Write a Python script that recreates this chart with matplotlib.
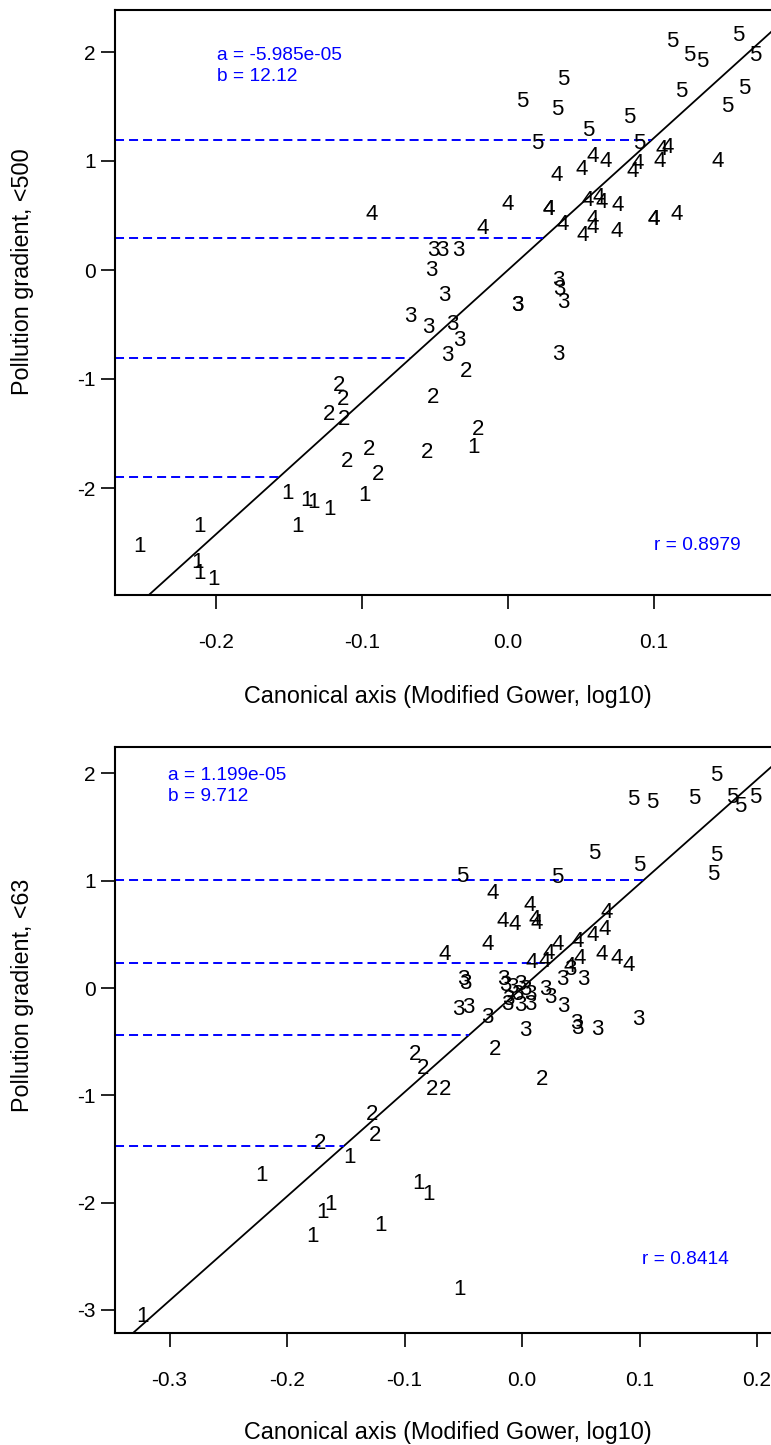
import matplotlib
matplotlib.use('Agg')
import matplotlib.pyplot as plt
import matplotlib.transforms as mtransforms
import numpy as np

plt.rcParams['font.family'] = ['Liberation Sans', 'DejaVu Sans']
plt.rcParams['lines.scale_dashes'] = False

# ---------------- Panel 1 (<500) ----------------
p1_c1_x = [-0.2527, -0.2116, -0.2130, -0.2116, -0.2014, -0.1507, -0.1377, -0.1329, -0.1226, -0.1445, -0.0986, -0.0233]
p1_c1_y = [-2.514, -2.330, -2.661, -2.761, -2.817, -2.028, -2.092, -2.110, -2.174, -2.330, -2.046, -1.606]
p1_c2_x = [-0.1158, -0.1130, -0.1226, -0.1123, -0.1103, -0.0952, -0.0890, -0.0514, -0.0555, -0.0288, -0.0205]
p1_c2_y = [-1.037, -1.165, -1.303, -1.349, -1.734, -1.624, -1.853, -1.147, -1.651, -0.908, -1.440]
p1_c3_x = [-0.0514, -0.0452, -0.0342, -0.0527, -0.0438, -0.0671, -0.0548, -0.0384, -0.0336, -0.0418,
           0.0062, 0.0062, 0.0342, 0.0349, 0.0377, 0.0342]
p1_c3_y = [0.202, 0.202, 0.202, 0.018, -0.211, -0.404, -0.505, -0.477, -0.624, -0.761,
           -0.303, -0.303, -0.073, -0.156, -0.275, -0.752]
p1_c4_x = [0.0582, 0.0671, 0.0507, 0.0336, 0.0890, 0.0856, 0.1055, 0.1096, 0.1041, 0.1438,
           0.0281, 0.0281, 0.0548, 0.0623, 0.0644, 0.0753, 0.0377, 0.0582, 0.0582, 0.0514,
           0.0747, 0.1000, 0.1000, 0.1158, 0.0000, -0.0171, -0.0932]
p1_c4_y = [1.064, 1.018, 0.945, 0.890, 1.000, 0.927, 1.128, 1.147, 1.018, 1.018,
           0.578, 0.578, 0.661, 0.688, 0.642, 0.615, 0.440, 0.486, 0.413, 0.339,
           0.376, 0.486, 0.486, 0.532, 0.624, 0.404, 0.532]
p1_c5_x = [0.1123, 0.1240, 0.1329, 0.1575, 0.1692, 0.1616, 0.1500, 0.1185, 0.0377, 0.0096,
           0.0336, 0.0829, 0.0548, 0.0199, 0.0897]
p1_c5_y = [2.119, 1.991, 1.936, 2.174, 1.991, 1.688, 1.523, 1.661, 1.771, 1.569,
           1.495, 1.422, 1.303, 1.183, 1.183]
p1_a, p1_b, p1_r = -5.985e-05, 12.12, 0.8979
p1_breaks = [1.19, 0.29, -0.81, -1.90]
p1_xticks = [-0.2, -0.1, 0.0, 0.1]
p1_yticks = [-2, -1, 0, 1, 2]
p1_ylabel = "Pollution gradient, <500"

# ---------------- Panel 2 (<63) ----------------
p2_c1_x = [-0.2221, -0.1472, -0.1787, -0.1694, -0.1626, -0.1200, -0.0877, -0.0800, -0.3234, -0.0536]
p2_c1_y = [-1.724, -1.556, -2.293, -2.069, -1.994, -2.190, -1.799, -1.901, -3.038, -2.787]
p2_c2_x = [-0.0911, -0.0843, -0.0766, -0.0655, -0.1277, -0.1251, -0.1719, -0.0230, 0.0170]
p2_c2_y = [-0.596, -0.727, -0.923, -0.923, -1.156, -1.351, -1.426, -0.550, -0.829]
p2_c3_x = [-0.0502, -0.0485, -0.0545, -0.0460, -0.0298, -0.0162, -0.0145, -0.0085, -0.0017, 0.0026,
           0.0068, -0.0043, -0.0119, -0.0128, -0.0017, 0.0068, 0.0196, 0.0238, 0.0349, 0.0340,
           0.0409, 0.0519, 0.0460, 0.0468, 0.0638, 0.0987, 0.0026]
p2_c3_y = [0.103, 0.065, -0.177, -0.158, -0.252, 0.103, 0.047, 0.028, 0.056, 0.009,
           -0.037, -0.037, -0.084, -0.130, -0.140, -0.130, 0.009, -0.065, -0.149, 0.103,
           0.196, 0.103, -0.308, -0.354, -0.363, -0.270, -0.373]
p2_c4_x = [-0.0247, 0.0068, -0.0162, -0.0060, 0.0111, 0.0128, -0.0289, -0.0655, 0.0723, 0.0604,
           0.0706, 0.0477, 0.0306, 0.0230, 0.0085, 0.0196, 0.0494, 0.0409, 0.0681, 0.0809, 0.0911]
p2_c4_y = [0.904, 0.792, 0.643, 0.615, 0.662, 0.624, 0.429, 0.336, 0.727, 0.513,
           0.569, 0.457, 0.429, 0.345, 0.261, 0.270, 0.298, 0.224, 0.336, 0.298, 0.233]
p2_c5_x = [0.1651, 0.0945, 0.1106, 0.1464, 0.1787, 0.1855, 0.1983, 0.0613, 0.0996, 0.1651,
           0.1626, -0.0511, 0.0298]
p2_c5_y = [2.004, 1.780, 1.752, 1.789, 1.799, 1.715, 1.799, 1.277, 1.165, 1.258,
           1.081, 1.062, 1.053]
p2_a, p2_b, p2_r = 1.199e-05, 9.712, 0.8414
p2_breaks = [1.007, 0.23, -0.438, -1.472]
p2_xticks = [-0.3, -0.2, -0.1, 0.0, 0.1, 0.2]
p2_yticks = [-3, -2, -1, 0, 1, 2]
p2_ylabel = "Pollution gradient, <63"

xlabel = "Canonical axis (Modified Gower, log10)"

W, H = 771, 1445
fig = plt.figure(figsize=(W / 100, H / 100), dpi=100)


def rect(l, t, r, b):
    return [l / W, 1 - b / H, (r - l) / W, (b - t) / H]


DIGIT_FS = 16
ANN_FS = 13.8


def panel(ax, classes, a, b, r, breaks, xlim, ylim, xticks, yticks, a_pos, r_pos):
    ax.set_xlim(*xlim)
    ax.set_ylim(*ylim)
    # digits centred on their ink
    off = mtransforms.offset_copy(ax.transData, fig=fig, x=0, y=-DIGIT_FS * 0.36, units='points')
    for lab, xs, ys in classes:
        for x, y in zip(xs, ys):
            ax.text(x, y, lab, transform=off, ha='center', va='baseline',
                    fontsize=DIGIT_FS, color='black', clip_on=False)
    # regression line
    xx = np.array(xlim)
    ax.plot(xx, a + b * xx, color='black', lw=1.3)
    # class boundaries
    for yb in breaks:
        ax.plot([xlim[0], (yb - a) / b], [yb, yb], color='#0000ff', lw=1.4,
                linestyle=(0, (6.5, 3.6)))
    ax.set_xticks(xticks)
    ax.set_xticklabels([f"{t:.1f}" for t in xticks])
    ax.set_yticks(yticks)
    ax.set_yticklabels([f"{t:d}" for t in yticks])
    ax.tick_params(direction='out', length=10, width=1.2, labelsize=15, color='black')
    ax.tick_params(axis='x', pad=17)
    ax.tick_params(axis='y', pad=4)
    for s in ax.spines.values():
        s.set_linewidth(1.5)
    ax.text(a_pos[0], a_pos[1], f"a = {a:.4g}", transform=ax.transAxes,
            color='#0000ff', fontsize=ANN_FS, ha='left', va='center')
    ax.text(a_pos[0], a_pos[2], f"b = {b:.4g}", transform=ax.transAxes,
            color='#0000ff', fontsize=ANN_FS, ha='left', va='center')
    ax.text(r_pos[0], r_pos[1], f"r = {r:.4f}", transform=ax.transAxes,
            color='#0000ff', fontsize=ANN_FS, ha='left', va='center')


ax1 = fig.add_axes(rect(115, 10, 781, 595))
panel(ax1,
      [('1', p1_c1_x, p1_c1_y), ('2', p1_c2_x, p1_c2_y), ('3', p1_c3_x, p1_c3_y),
       ('4', p1_c4_x, p1_c4_y), ('5', p1_c5_x, p1_c5_y)],
      p1_a, p1_b, p1_r, p1_breaks,
      ((115 - 508) / 1460, (781 - 508) / 1460), ((270 - 595) / 109, (270 - 10) / 109),
      p1_xticks, p1_yticks, (0.153, 0.922, 0.887), (0.809, 0.084))

ax2 = fig.add_axes(rect(115, 747, 781, 1333))
panel(ax2,
      [('1', p2_c1_x, p2_c1_y), ('2', p2_c2_x, p2_c2_y), ('3', p2_c3_x, p2_c3_y),
       ('4', p2_c4_x, p2_c4_y), ('5', p2_c5_x, p2_c5_y)],
      p2_a, p2_b, p2_r, p2_breaks,
      ((115 - 522) / 1175, (781 - 522) / 1175), ((988 - 1333) / 107.3, (988 - 747) / 107.3),
      p2_xticks, p2_yticks, (0.0796, 0.951, 0.915), (0.791, 0.126))

fig.text(448 / W, 1 - 696 / H, xlabel, ha='center', va='center', fontsize=16.8)
fig.text(448 / W, 1 - 1432 / H, xlabel, ha='center', va='center', fontsize=16.8)
fig.text(23 / W, 1 - 272 / H, p1_ylabel, ha='center', va='center', rotation=90, fontsize=16.8)
fig.text(23 / W, 1 - 995 / H, p2_ylabel, ha='center', va='center', rotation=90, fontsize=16.8)

fig.savefig('out.png', dpi=100)
